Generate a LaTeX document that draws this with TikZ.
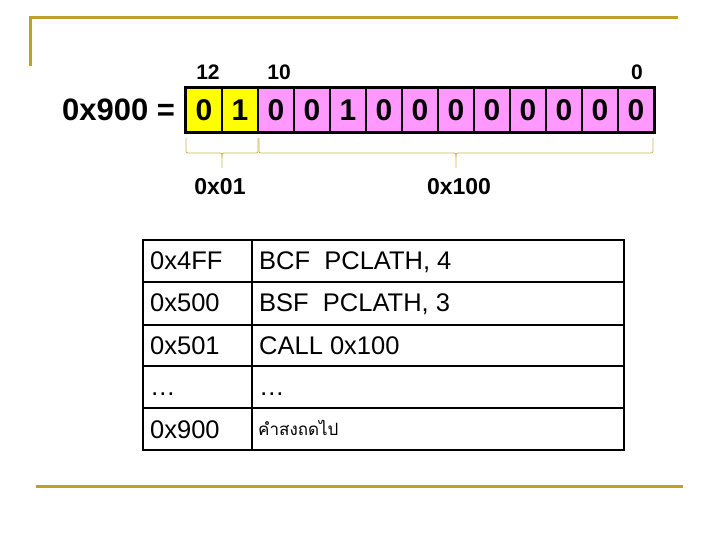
\documentclass[tikz,border=0pt]{standalone}
\usepackage{fontspec}
\setmainfont{Liberation Sans}
\newfontfamily\thaifont[Script=Thai]{Loma}
\definecolor{gold}{RGB}{191,160,42}
\definecolor{bracec}{RGB}{200,180,80}
\definecolor{pinkc}{RGB}{255,153,255}
\definecolor{yelc}{RGB}{255,255,0}
\begin{document}
\begin{tikzpicture}[x=1pt,y=-1pt,
  bitcell/.style={draw=black,line width=1.5pt,minimum width=36pt,minimum height=43pt,inner sep=0pt,
    font=\fontsize{30}{34}\selectfont\bfseries},
  bitlbl/.style={font=\fontsize{21}{24}\selectfont\bfseries,inner sep=0pt},
  grplbl/.style={font=\fontsize{23}{26}\selectfont\bfseries,inner sep=0pt},
  brc/.style={draw=bracec,line width=0.8pt},
  goldline/.style={draw=gold,line width=3pt},
  tbl/.style={draw=black,line width=2.6pt},
  ttxt/.style={anchor=base west,inner sep=0pt,font=\fontsize{25.5}{28}\selectfont}]
\useasboundingbox (0,0) rectangle (720,540);
% frame lines
\draw[goldline] (30,66) -- (30,18) -- (678,18);
\draw[goldline] (36,486) -- (683,486);
% bit cells
\foreach \v [count=\i from 0] in {0,1} {
  \node[bitcell,fill=yelc] (b\i) at (204+36*\i,110) {\v};
}
\foreach \v [count=\i from 2] in {0,0,1,0,0,0,0,0,0,0,0} {
  \node[bitcell,fill=pinkc] (b\i) at (204+36*\i,110) {\v};
}
\draw[black,line width=2.6pt] (b0.north west) rectangle (b12.south east);
\node[anchor=east,inner sep=0pt,font=\fontsize{31}{34}\selectfont\bfseries] (eq) at ([xshift=-10pt]b0.west) {0x900 =};
% bit position labels
\node[bitlbl] (p12) at (208,72) {12};
\node[bitlbl] (p10) at (279,72) {10};
\node[bitlbl] (p0) at (637,72) {0};
% braces
\draw[brc] (186,138) -- (186,149) .. controls (186,153) .. (190,153) -- (218,153)
  .. controls (222,153) .. (222,157) -- (222,168);
\draw[brc] (222,157) .. controls (222,153) .. (226,153) -- (254,153)
  .. controls (258,153) .. (258,149) -- (258,138);
\draw[brc] (259,138) -- (259,149) .. controls (259,153) .. (263,153) -- (452,153)
  .. controls (456,153) .. (456,157) -- (456,168);
\draw[brc] (456,157) .. controls (456,153) .. (460,153) -- (649,153)
  .. controls (653,153) .. (653,149) -- (653,138);
\node[grplbl] (g01) at (220,187) {0x01};
\node[grplbl] (g100) at (459,187) {0x100};
% table
\draw[tbl] (143,240) rectangle (624,450);
\draw[tbl] (252,240) -- (252,450);
\foreach \yy in {282,325,366,408} { \draw[tbl] (143,\yy) -- (624,\yy); }
\node[ttxt] (a1) at (150,269) {0x4FF};
\node[ttxt] (i1) at (259,269) {BCF\ \ PCLATH, 4};
\node[ttxt] (a2) at (150,311) {0x500};
\node[ttxt] (i2) at (259,311) {BSF\ \ PCLATH, 3};
\node[ttxt] (a3) at (150,354) {0x501};
\node[ttxt] (i3) at (259,354) {CALL 0x100};
\node[ttxt] (a4) at (150,395) {…};
\node[ttxt] (i4) at (259,395) {…};
\node[ttxt] (a5) at (150,438) {0x900};
\node[anchor=base west,inner sep=0pt,font=\thaifont\fontsize{17}{19}\selectfont] (i5) at (258,435) {คำสงถดไป};
\end{tikzpicture}
\end{document}
